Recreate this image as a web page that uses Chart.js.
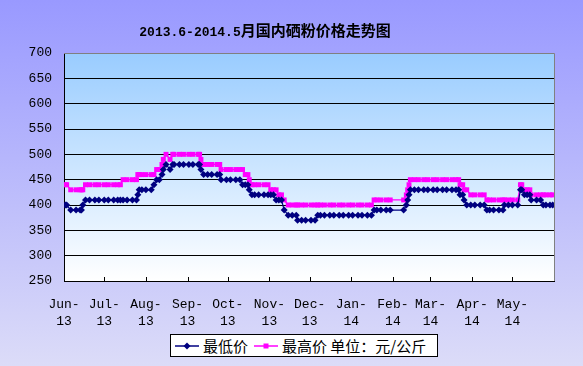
<!DOCTYPE html>
<html>
<head>
<meta charset="utf-8">
<script src="https://cdn.jsdelivr.net/npm/chart.js@4.4.0/dist/chart.umd.min.js"></script>
<style>
  html, body { margin: 0; padding: 0; }
  #wrap {
    position: relative;
    width: 583px;
    height: 366px;
    background: linear-gradient(to bottom, #9999ff, #dcdcf8);
  }
  #legend {
    position: absolute;
    left: 170px;
    top: 334px;
    width: 268px;
    height: 23px;
    box-sizing: border-box;
    background: #fff;
    border: 1px solid #000;
    font: 15px 'Noto Sans CJK SC', sans-serif;
    color: #000;
  }
  #legend .item { position: absolute; top: 0; height: 21px; line-height: 21px; white-space: nowrap; }
  #legend svg { position: absolute; top: 5px; }
</style>
</head>
<body>
<div id="wrap">
  <canvas id="chart" width="583" height="366"></canvas>
  <div id="legend">
    <svg style="left:4px" width="24" height="12">
      <line x1="0" y1="6" x2="24" y2="6" stroke="#000080" stroke-width="1.5"/>
      <polygon points="12,2.5 15.5,6 12,9.5 8.5,6" fill="#000080"/>
    </svg>
    <span class="item" style="left:32px">最低价</span>
    <svg style="left:83px" width="24" height="12">
      <line x1="0" y1="6" x2="24" y2="6" stroke="#ff00ff" stroke-width="1.5"/>
      <rect x="9.5" y="3.5" width="5" height="5" fill="#ff00ff"/>
    </svg>
    <span class="item" style="left:111px">最高价 单位：元/公斤</span>
  </div>
</div>
<script>
const titleHead = '2013.6-2014.5';
const titleTail = '月国内硒粉价格走势图';

// days counted from 2013-06-01
const monthDays = [0, 30, 61, 92, 122, 153, 183, 214, 245, 273, 304, 334];
const monthLabels = [
  ['Jun-', '13'], ['Jul-', '13'], ['Aug-', '13'], ['Sep-', '13'],
  ['Oct-', '13'], ['Nov-', '13'], ['Dec-', '13'], ['Jan-', '14'],
  ['Feb-', '14'], ['Mar-', '14'], ['Apr-', '14'], ['May-', '14']
];

const days = [
  1, 2, 5, 9, 12, 13, 14, 16, 19, 23,
  26, 30, 33, 37, 40, 42, 44, 47, 51, 54,
  55, 56, 58, 61, 65, 67, 69, 71, 73, 74,
  76, 79, 81, 82, 86, 89, 93, 96, 100, 101,
  102, 104, 107, 110, 114, 116, 117, 121, 124, 128,
  131, 133, 135, 137, 138, 140, 142, 145, 149, 152,
  154, 156, 158, 160, 162, 164, 167, 170, 173, 174,
  177, 180, 184, 187, 189, 191, 194, 198, 201, 205,
  208, 212, 215, 219, 222, 226, 229, 231, 233, 236,
  240, 243, 253, 255, 256, 257, 258, 261, 264, 268,
  271, 275, 278, 282, 285, 289, 292, 294, 295, 297,
  298, 300, 303, 306, 310, 313, 315, 317, 320, 324,
  327, 328, 331, 334, 338, 340, 341, 343, 345, 347,
  348, 352, 355, 357, 359, 362, 364
];

const lowPrices = [
  400, 400, 390, 390, 390, 390, 400, 410, 410, 410,
  410, 410, 410, 410, 410, 410, 410, 410, 410, 410,
  420, 430, 430, 430, 430, 440, 450, 450, 460, 470,
  480, 470, 480, 480, 480, 480, 480, 480, 480, 480,
  470, 460, 460, 460, 460, 460, 450, 450, 450, 450,
  450, 440, 440, 440, 430, 420, 420, 420, 420, 420,
  420, 420, 410, 410, 410, 390, 380, 380, 380, 370,
  370, 370, 370, 370, 380, 380, 380, 380, 380, 380,
  380, 380, 380, 380, 380, 380, 380, 390, 390, 390,
  390, 390, 390, 400, 410, 420, 430, 430, 430, 430,
  430, 430, 430, 430, 430, 430, 430, 430, 420, 420,
  410, 400, 400, 400, 400, 400, 390, 390, 390, 390,
  390, 400, 400, 400, 400, 430, 430, 420, 420, 420,
  410, 410, 410, 400, 400, 400, 400
];

const highPrices = [
  440, 440, 430, 430, 430, 430, 430, 440, 440, 440,
  440, 440, 440, 440, 440, 440, 450, 450, 450, 450,
  460, 460, 460, 460, 460, 460, 470, 470, 480, 490,
  500, 490, 500, 500, 500, 500, 500, 500, 500, 500,
  490, 480, 480, 480, 480, 480, 470, 470, 470, 470,
  470, 470, 460, 460, 450, 440, 440, 440, 440, 440,
  430, 430, 430, 420, 420, 410, 400, 400, 400, 400,
  400, 400, 400, 400, 400, 400, 400, 400, 400, 400,
  400, 400, 400, 400, 400, 400, 400, 410, 410, 410,
  410, 410, 410, 420, 430, 440, 450, 450, 450, 450,
  450, 450, 450, 450, 450, 450, 450, 450, 440, 440,
  430, 430, 420, 420, 420, 420, 410, 410, 410, 410,
  410, 410, 410, 410, 410, 440, 440, 430, 430, 430,
  420, 420, 420, 420, 420, 420, 420
];

const monoFont = "'Liberation Mono', 'Noto Sans CJK SC', monospace";

// plot area background + grey top/right frame + inner month ticks + title
const framePlugin = {
  id: 'frame',
  beforeDraw(chart) {
    const { ctx, chartArea: a } = chart;
    const g = ctx.createLinearGradient(0, a.top, 0, a.bottom);
    g.addColorStop(0, '#99ccff');
    g.addColorStop(1, '#ffffff');
    ctx.save();
    ctx.fillStyle = g;
    ctx.fillRect(a.left, a.top, a.right - a.left, a.bottom - a.top);
    ctx.restore();
  },
  afterDraw(chart) {
    const { ctx, chartArea: a } = chart;
    const xs = chart.scales.x;
    ctx.save();
    ctx.strokeStyle = '#808080';
    ctx.lineWidth = 1;
    ctx.beginPath();
    ctx.moveTo(a.left, a.top + 0.5);
    ctx.lineTo(a.right + 0.5, a.top + 0.5);
    ctx.lineTo(a.right + 0.5, a.bottom);
    ctx.stroke();
    ctx.strokeStyle = '#000';
    ctx.beginPath();
    monthDays.forEach(d => {
      const px = Math.round(xs.getPixelForValue(d)) + 0.5;
      ctx.moveTo(px, a.bottom);
      ctx.lineTo(px, a.bottom - 4);
    });
    ctx.stroke();

    // title: half-width digits, full-width CJK
    const headFont = "bold 13px 'Liberation Mono', monospace";
    const tailFont = "bold 15px 'Noto Sans CJK SC', sans-serif";
    ctx.fillStyle = '#000';
    ctx.textBaseline = 'alphabetic';
    ctx.textAlign = 'left';
    ctx.font = headFont;
    const w1 = ctx.measureText(titleHead).width;
    ctx.font = tailFont;
    const w2 = ctx.measureText(titleTail).width;
    const x0 = 265 - (w1 + w2) / 2;
    ctx.font = headFont;
    ctx.fillText(titleHead, x0, 36);
    ctx.font = tailFont;
    ctx.fillText(titleTail, x0 + w1, 36);
    ctx.restore();
  }
};

new Chart(document.getElementById('chart'), {
  type: 'line',
  data: {
    datasets: [
      {
        label: '最低价',
        data: days.map((d, i) => ({ x: d, y: lowPrices[i] })),
        borderColor: '#000080',
        backgroundColor: '#000080',
        borderWidth: 1.25,
        pointStyle: 'rectRot',
        pointRadius: 3.5,
        pointBorderWidth: 0,
        tension: 0
      },
      {
        label: '最高价 单位：元/公斤',
        data: days.map((d, i) => ({ x: d, y: highPrices[i] })),
        borderColor: '#ff00ff',
        backgroundColor: '#ff00ff',
        borderWidth: 1.25,
        pointStyle: 'rect',
        pointRadius: 3.5,
        pointBorderWidth: 0,
        tension: 0
      }
    ]
  },
  options: {
    responsive: false,
    animation: false,
    devicePixelRatio: 1,
    layout: { padding: { top: 53, right: 29, left: 0, bottom: 40 } },
    plugins: {
      legend: { display: false },
      tooltip: { enabled: false },
      title: { display: false }
    },
    scales: {
      x: {
        type: 'linear',
        min: 0,
        max: 365,
        afterBuildTicks: s => { s.ticks = monthDays.map(v => ({ value: v })); },
        afterFit: s => { s.height = 45; },
        ticks: {
          autoSkip: false,
          maxRotation: 0,
          padding: 15,
          color: '#000',
          font: { family: monoFont, size: 13, lineHeight: 1.3 },
          callback: v => monthLabels[monthDays.indexOf(v)]
        },
        grid: { display: false, drawTicks: false },
        border: { display: true, color: '#000', width: 1 }
      },
      y: {
        min: 250,
        max: 700,
        afterFit: s => { s.width = 64; },
        ticks: {
          stepSize: 50,
          padding: 12,
          color: '#000',
          font: { family: monoFont, size: 13 }
        },
        grid: {
          drawTicks: false,
          lineWidth: 1,
          color: c => (c.tick && c.tick.value === 700 ? '#808080' : '#000')
        },
        border: { display: true, color: '#000', width: 1 }
      }
    }
  },
  plugins: [framePlugin]
});
</script>
</body>
</html>
